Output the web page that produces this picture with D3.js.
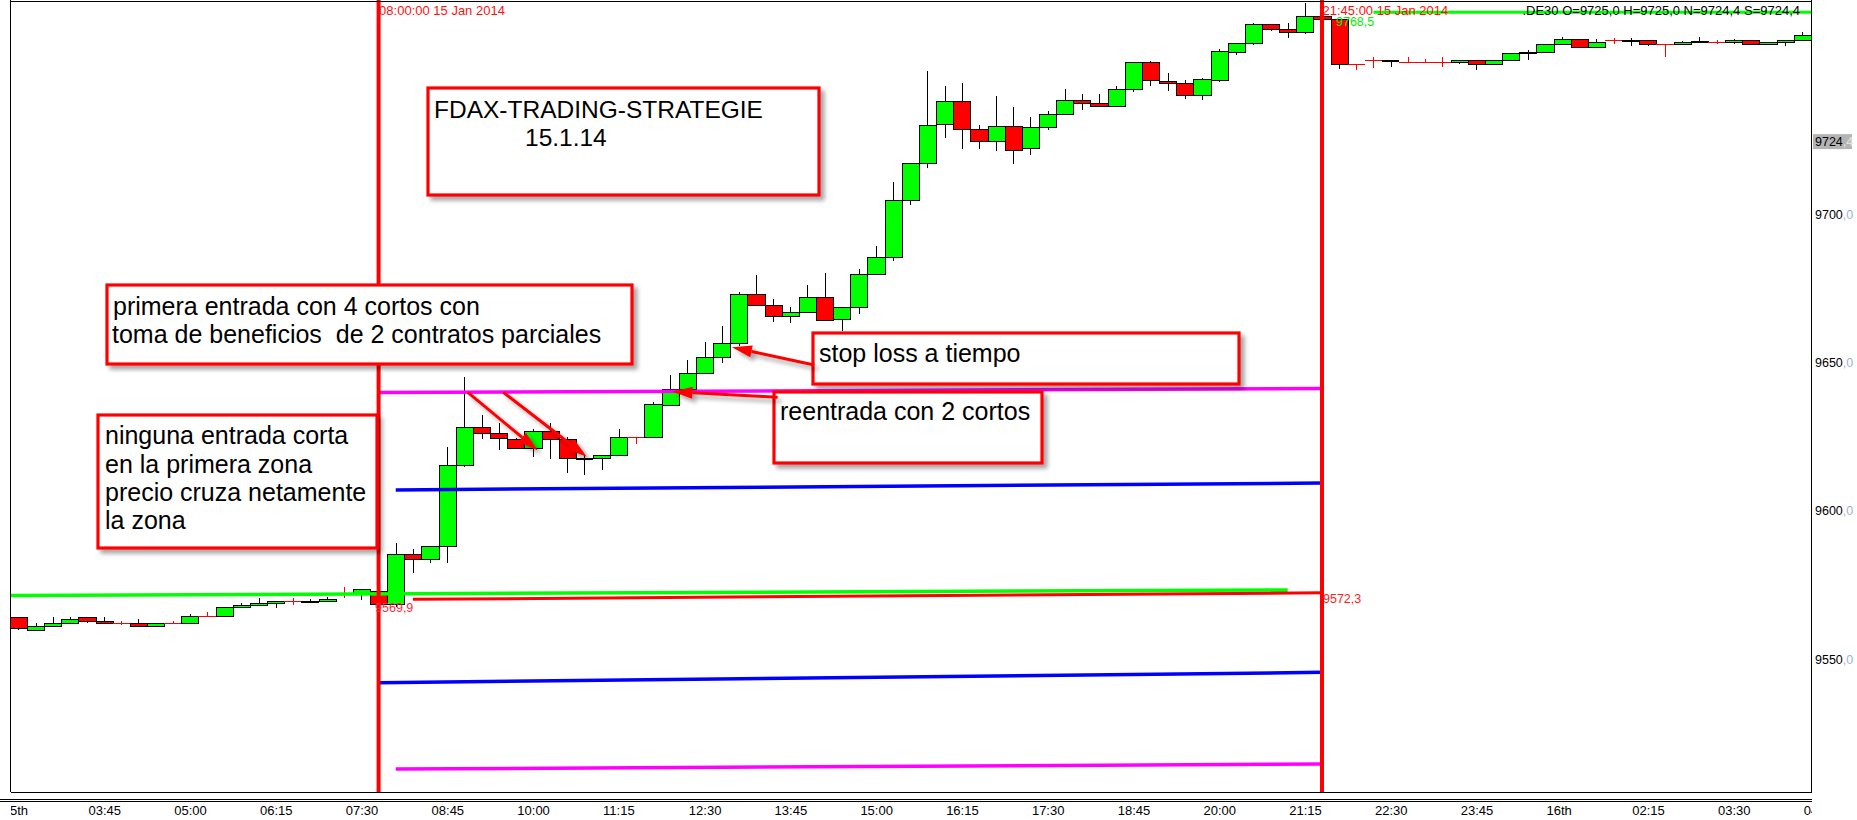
<!DOCTYPE html>
<html><head><meta charset="utf-8">
<script src="https://cdn.jsdelivr.net/npm/d3@7"></script>
<style>
html,body{margin:0;padding:0;background:#fff;}
svg{display:block;font-family:"Liberation Sans",Arial,sans-serif;}
</style></head><body>
<svg id="chart" width="1857" height="820"></svg>
<script>
// ---------- DATA ----------
const times = ["02:45","03:00","03:15","03:30","03:45","04:00","04:15","04:30","04:45","05:00",
"05:15","05:30","05:45","06:00","06:15","06:30","06:45","07:00","07:15","07:30","07:45",
"08:00","08:15","08:30","08:45","09:00","09:15","09:30","09:45","10:00","10:15","10:30","10:45",
"11:00","11:15","11:30","11:45","12:00","12:15","12:30","12:45","13:00","13:15","13:30","13:45",
"14:00","14:15","14:30","14:45","15:00","15:15","15:30","15:45","16:00","16:15","16:30","16:45",
"17:00","17:15","17:30","17:45","18:00","18:15","18:30","18:45","19:00","19:15","19:30","19:45",
"20:00","20:15","20:30","20:45","21:00","21:15","21:30","21:45","22:00","22:15","22:30","22:45",
"23:00","23:15","23:30","23:45","00:00","00:15","00:30","00:45","01:00","01:15","01:30","01:45",
"02:00","02:15","02:30","02:45","03:00","03:15","03:30","03:45","04:00","04:15","04:30","04:45"];
const open = [9564.0,9559.7,9561.0,9562.1,9564.0,9562.7,9562.1,9562.1,9561.0,9562.1,
9562.1,9564.4,9564.4,9567.4,9568.1,9568.9,9569.4,9569.7,9569.7,9571.9,9572.1,
9573.0,9568.4,9585.4,9583.7,9588.1,9615.3,9628.1,9626.1,9624.0,9621.2,9626.9,9624.0,
9617.9,9617.6,9618.6,9624.9,9624.9,9635.6,9640.9,9646.3,9651.7,9656.4,9673.0,9669.3,
9665.6,9667.1,9671.9,9664.5,9668.5,9679.8,9685.4,9704.6,9717.1,9730.3,9738.0,9728.7,
9724.6,9729.6,9722.2,9729.3,9733.7,9738.5,9737.4,9736.5,9742.0,9751.1,9744.7,9744.1,
9740.0,9745.0,9754.7,9757.5,9764.0,9762.3,9761.5,9766.7,9765.6,9750.6,9751.9,9751.9,
9751.2,9751.2,9751.2,9751.2,9751.8,9750.6,9751.8,9754.2,9754.5,9757.3,9758.9,9756.2,
9758.7,9758.7,9758.8,9757.3,9757.2,9758.4,9758.0,9757.9,9758.5,9757.3,9757.9,9758.5];
const high = [9564.0,9562.1,9564.0,9564.3,9564.0,9564.0,9562.8,9563.5,9562.1,9562.8,
9565.2,9566.0,9567.4,9568.9,9570.5,9569.4,9570.5,9570.2,9571.0,9574.4,9573.5,
9573.0,9589.0,9587.1,9588.1,9621.6,9645.2,9632.2,9629.4,9624.4,9627.4,9629.4,9625.0,
9619.1,9618.6,9627.4,9624.9,9636.5,9645.7,9650.8,9657.0,9662.2,9673.8,9679.4,9671.2,
9668.8,9676.1,9680.2,9668.5,9681.4,9689.2,9710.8,9717.1,9748.2,9743.1,9744.1,9730.0,
9739.9,9736.2,9732.8,9734.7,9742.0,9740.5,9740.5,9743.0,9751.1,9751.5,9747.5,9745.1,
9746.0,9755.5,9757.5,9764.5,9764.0,9764.5,9771.2,9768.5,9765.6,9750.6,9753.0,9751.9,
9752.8,9752.1,9752.8,9751.8,9751.8,9751.8,9754.2,9755.3,9757.3,9759.8,9758.9,9758.9,
9759.4,9759.4,9758.8,9757.3,9758.4,9759.5,9758.5,9759.1,9758.5,9757.9,9758.5,9761.5];
const low = [9559.7,9559.7,9561.0,9562.1,9562.0,9561.7,9561.6,9561.0,9561.0,9561.7,
9562.1,9564.4,9564.4,9567.4,9568.1,9567.3,9568.1,9568.9,9569.3,9570.5,9569.9,
9568.4,9567.5,9579.1,9582.5,9582.3,9614.6,9624.2,9620.4,9621.2,9618.2,9617.4,9612.8,
9612.0,9613.7,9618.6,9622.5,9624.9,9635.6,9640.9,9646.3,9649.9,9655.5,9669.3,9663.5,
9663.1,9667.1,9664.3,9660.7,9666.3,9679.8,9684.3,9703.2,9715.6,9725.7,9722.0,9722.0,
9721.3,9717.0,9719.8,9728.2,9733.7,9734.9,9736.2,9736.5,9741.2,9743.2,9741.6,9738.9,
9738.5,9744.5,9753.6,9756.9,9761.8,9759.2,9760.8,9765.6,9749.0,9748.5,9749.1,9749.7,
9751.2,9751.2,9749.7,9750.6,9748.6,9750.6,9751.8,9751.9,9754.5,9757.3,9756.2,9756.2,
9757.2,9756.5,9756.6,9753.0,9757.2,9757.9,9757.3,9757.3,9757.3,9757.3,9756.5,9758.5];
const close = [9560.3,9561.0,9562.1,9563.4,9562.7,9562.1,9562.1,9561.0,9562.1,9562.1,
9564.4,9564.4,9567.4,9568.1,9568.9,9569.4,9569.4,9569.7,9570.3,9571.9,9573.5,
9568.4,9585.4,9583.7,9588.1,9615.3,9628.1,9626.1,9624.4,9621.2,9626.9,9624.0,9617.9,
9617.9,9618.6,9624.9,9624.9,9636.0,9640.9,9646.3,9651.7,9656.4,9673.0,9669.3,9665.6,
9667.1,9671.9,9664.3,9668.5,9679.8,9685.4,9704.6,9717.1,9729.9,9738.0,9728.7,9724.6,
9729.6,9721.6,9729.3,9733.7,9738.5,9737.4,9736.5,9742.0,9751.1,9745.0,9744.1,9740.0,
9745.4,9754.8,9757.5,9764.0,9762.3,9761.5,9766.7,9765.6,9750.6,9750.6,9751.9,9751.9,
9751.2,9751.2,9751.2,9751.8,9750.6,9751.8,9754.2,9754.6,9757.3,9758.9,9756.2,9757.9,
9758.7,9758.7,9757.3,9757.3,9757.9,9757.9,9758.0,9758.5,9757.3,9757.9,9758.5,9760.3];
const flatBlack = ["07:00","11:00","22:45","02:15"];

const tickTimes = ["15 02:30","15 03:45","15 05:00","15 06:15","15 07:30","15 08:45","15 10:00",
"15 11:15","15 12:30","15 13:45","15 15:00","15 16:15","15 17:30","15 18:45","15 20:00","15 21:15",
"15 22:30","15 23:45","16 01:00","16 02:15","16 03:30","16 04:45"];
const tickLabels = ["15th","03:45","05:00","06:15","07:30","08:45","10:00","11:15","12:30","13:45",
"15:00","16:15","17:30","18:45","20:00","21:15","22:30","23:45","16th","02:15","03:30","04:45"];
const priceTicks = [9550, 9600, 9650, 9700];
const lastPrice = 9724.4;
const header = ".DE30 O=9725,0 H=9725,0 N=9724,4 S=9724,4";

// trend lines: [start time, start price, end time, end price, colour, width]
const trendLines = [
  ["15 02:30", 9571.4, "15 21:15", 9573.3, "#00ff00", 3.5],
  ["15 08:30", 9570.1, "15 21:45", 9572.3, "#ff0000", 3],
  ["15 08:00", 9639.8, "15 21:45", 9641.2, "#ff00ff", 3.5],
  ["15 08:15", 9607.0, "15 21:45", 9609.3, "#0000ff", 3.5],
  ["15 08:00", 9542.0, "15 21:45", 9545.5, "#0000ff", 3.5],
  ["15 08:15", 9512.9, "15 21:45", 9514.6, "#ff00ff", 3.5],
  ["15 22:30", 9768.0, "16 05:15", 9768.0, "#00ff00", 3]
];
const markerTimes = ["15 08:00", "15 21:45"];
const markerLabels = ["08:00:00 15 Jan 2014", "21:45:00 15 Jan 2014"];
const levelLabels = [["15 08:00", 9569.9, "9569,9", "#ff2a3a"], ["15 21:45", 9572.3, "9572,3", "#ff2020"], ["15 21:45", 9768.5, "9768,5", "#00ee00"]];

// arrows: [start time, start price, tip time, tip price]
const arrows = [
  ["15 09:18", 9639.9, "15 10:19", 9620.4],
  ["15 09:49", 9639.9, "15 11:02", 9618.2],
  ["15 14:21", 9649.1, "15 13:09", 9655.1],
  ["15 13:49", 9638.2, "15 12:17", 9640.1]
];
// annotation boxes (layout)
const boxes = [
  {x:428, y:88, w:391, h:107, lines:[["FDAX-TRADING-STRATEGIE",434,118,24.5],["15.1.14",525,146,24.5]]},
  {x:107, y:285, w:525, h:79, lines:[["primera entrada con 4 cortos con",113,315,25],["toma de beneficios  de 2 contratos parciales",112,343,25]]},
  {x:813, y:333, w:426, h:51, lines:[["stop loss a tiempo",819,362,25]]},
  {x:774, y:392, w:268, h:71, lines:[["reentrada con 2 cortos",780,420,25]]},
  {x:98, y:415, w:279, h:133, lines:[["ninguna entrada corta",105,444,25],["en la primera zona",105,472.5,25],["precio cruza netamente",105,501,25],["la zona",105,528.5,25]]}
];

// ---------- SETUP ----------
const svg = d3.select("#chart");
const PL = 11, PR = 1812, PT = 0, PB = 792;
function dt(s){ const [d, hm] = s.split(" "); const [h,m] = hm.split(":").map(Number); return new Date(2014,0,+d,h,m); }
let day = 15, prev = -1;
const dates = times.map(t => { const [h,m] = t.split(":").map(Number); const mm = h*60+m; if (mm < prev) day++; prev = mm; return new Date(2014,0,day,h,m); });

const x = d3.scaleTime().domain([dt("15 08:00"), dt("15 21:45")]).range([378.6, 1322]);
const y = d3.scaleLinear().domain([9550, 9700]).range([659, 214]);
const bw = x(dt("15 08:15")) - x(dt("15 08:00"));

const defs = svg.append("defs");
const f = defs.append("filter").attr("id","shadow").attr("x","-20%").attr("y","-20%").attr("width","150%").attr("height","160%");
f.append("feDropShadow").attr("dx",4).attr("dy",4).attr("stdDeviation",2.2).attr("flood-color","#000").attr("flood-opacity",0.35);
defs.append("clipPath").attr("id","plotclip").append("rect").attr("x",PL).attr("y",PT).attr("width",PR-PL).attr("height",PB-PT);
defs.append("clipPath").attr("id","axisclip").append("rect").attr("x",PL).attr("y",PB+10).attr("width",PR-PL).attr("height",30);

const plot = svg.append("g").attr("clip-path","url(#plotclip)");

// ---------- CANDLES ----------
const data = dates.map((d,i)=>({d, t:times[i], o:open[i], h:high[i], l:low[i], c:close[i]}));
const cg = plot.append("g").attr("shape-rendering","crispEdges");
data.forEach(k => {
  const cx = x(k.d);
  const wx = Math.round(cx) + 0.5;
  const x0 = Math.round(cx - bw/2);
  const w = Math.round(cx + bw/2) - x0;
  if (k.o === k.c) {
    const col = flatBlack.includes(k.t) ? "#000" : "#ff0000";
    cg.append("line").attr("x1",wx).attr("x2",wx).attr("y1",y(k.h)).attr("y2",y(k.l)).attr("stroke",col).attr("stroke-width",1);
    const yy = Math.round(y(k.o)) + 0.5;
    cg.append("line").attr("x1",x0).attr("x2",x0+w).attr("y1",yy).attr("y2",yy).attr("stroke",col).attr("stroke-width", col==="#000"?2:1.3);
  } else {
    cg.append("line").attr("x1",wx).attr("x2",wx).attr("y1",y(k.h)).attr("y2",y(k.l)).attr("stroke","#000").attr("stroke-width",1);
    const top = Math.round(y(Math.max(k.o,k.c)));
    const bot = Math.round(y(Math.min(k.o,k.c)));
    cg.append("rect").attr("x",x0+0.5).attr("y",top+0.5).attr("width",w).attr("height",Math.max(1,bot-top))
      .attr("fill", k.c > k.o ? "#00ff00" : "#ff0000").attr("stroke","#000").attr("stroke-width",1.4);
  }
});

// ---------- TREND LINES ----------
trendLines.forEach(([t1,p1,t2,p2,col,sw]) => {
  plot.append("line").attr("x1",x(dt(t1))).attr("y1",y(p1)).attr("x2",x(dt(t2))).attr("y2",y(p2))
    .attr("stroke",col).attr("stroke-width",sw);
});

// ---------- VERTICAL MARKERS ----------
markerTimes.forEach((t,i) => {
  plot.append("line").attr("x1",x(dt(t))).attr("x2",x(dt(t))).attr("y1",0).attr("y2",PB)
    .attr("stroke","#ff0000").attr("stroke-width",4);
});

// ---------- FRAME & AXES ----------
const fr = svg.append("g").attr("shape-rendering","crispEdges").attr("stroke","#000").attr("stroke-width",1);
fr.append("line").attr("x1",PL).attr("x2",PR).attr("y1",1.5).attr("y2",1.5);
fr.append("line").attr("x1",PL).attr("x2",PR).attr("y1",PB+0.5).attr("y2",PB+0.5);
fr.append("line").attr("x1",PL-0.5).attr("x2",PL-0.5).attr("y1",0).attr("y2",PB);
fr.append("line").attr("x1",PR-0.5).attr("x2",PR-0.5).attr("y1",0).attr("y2",PB);
fr.append("line").attr("x1",0).attr("x2",PR).attr("y1",799.5).attr("y2",799.5);
fr.append("line").attr("x1",0).attr("x2",PR).attr("y1",801.5).attr("y2",801.5);

const xAxis = d3.axisBottom(x).tickValues(tickTimes.map(dt)).tickFormat((d,i)=>tickLabels[i]).tickSize(0).tickPadding(0);
const xOuter = svg.append("g").attr("clip-path","url(#axisclip)");
const xg = xOuter.append("g").attr("transform","translate(0,815)").call(xAxis);
xg.select(".domain").remove();
xg.selectAll("text").attr("text-anchor","start").attr("dx",1).attr("y",0).attr("dy",0)
  .attr("font-size",13).attr("font-family","Liberation Sans, Arial, sans-serif").attr("fill","#000");

// price axis labels
const pg = svg.append("g").attr("font-size",12.5);
priceTicks.forEach(v => {
  const t = pg.append("text").attr("x",1815).attr("y",y(v)+4.5);
  t.append("tspan").attr("fill","#000").text(String(v));
  t.append("tspan").attr("fill","#9fb2cc").text(",0");
});
pg.append("rect").attr("x",1813).attr("y",y(lastPrice)-7.5).attr("width",39).attr("height",15).attr("fill","#b4b4b4");
const lp = d3.format(".1f")(lastPrice).split(".");
const lt = pg.append("text").attr("x",1815).attr("y",y(lastPrice)+4.5);
lt.append("tspan").attr("fill","#000").text(lp[0]);
lt.append("tspan").attr("fill","#e4e4e4").text("," + lp[1]);

// ---------- TEXT LABELS ----------
markerTimes.forEach((t,i) => {
  svg.append("text").attr("x",x(dt(t))+0.5).attr("y",15).attr("font-size",13).attr("fill","#ff1010").text(markerLabels[i]);
});
svg.append("text").attr("x",1800).attr("y",15).attr("text-anchor","end").attr("font-size",13).attr("fill","#000").text(header);
levelLabels.forEach(([t,p,txt,col],i) => {
  const xx = i===0 ? x(dt(t)) - 3.5 : (i===1 ? x(dt(t)) + 1 : x(dt(t)) + 14);
  const yy = i===0 ? y(p) + 12 : (i===1 ? y(p) + 10 : y(p) + 15);
  svg.append("text").attr("x",xx).attr("y",yy).attr("font-size",12.5).attr("fill",col).text(txt);
});

// ---------- ANNOTATION BOXES ----------
boxes.forEach(b => {
  const g = svg.append("g");
  g.append("rect").attr("x",b.x).attr("y",b.y).attr("width",b.w).attr("height",b.h)
    .attr("fill","#fff").attr("stroke","#ff0000").attr("stroke-width",3.2).attr("filter","url(#shadow)");
  b.lines.forEach(([txt,tx,ty,fs]) => {
    g.append("text").attr("x",tx).attr("y",ty).attr("font-size",fs).attr("fill","#000")
      .style("white-space","pre").attr("xml:space","preserve").text(txt);
  });
});

// ---------- ARROWS ----------
const ag = svg.append("g").attr("filter","url(#shadow)");
arrows.forEach(([t1,p1,t2,p2]) => {
  const x1 = x(dt(t1)), y1 = y(p1), x2 = x(dt(t2)), y2 = y(p2);
  const ang = Math.atan2(y2-y1, x2-x1), L = 20, W = 6;
  const bx = x2 - L*Math.cos(ang), by = y2 - L*Math.sin(ang);
  const nx = -Math.sin(ang), ny = Math.cos(ang);
  ag.append("line").attr("x1",x1).attr("y1",y1).attr("x2",bx).attr("y2",by).attr("stroke","#ff0000").attr("stroke-width",3);
  ag.append("path").attr("d",`M${x2},${y2}L${bx+nx*W},${by+ny*W}L${bx-nx*W},${by-ny*W}Z`).attr("fill","#ff0000");
});
</script>
</body></html>
